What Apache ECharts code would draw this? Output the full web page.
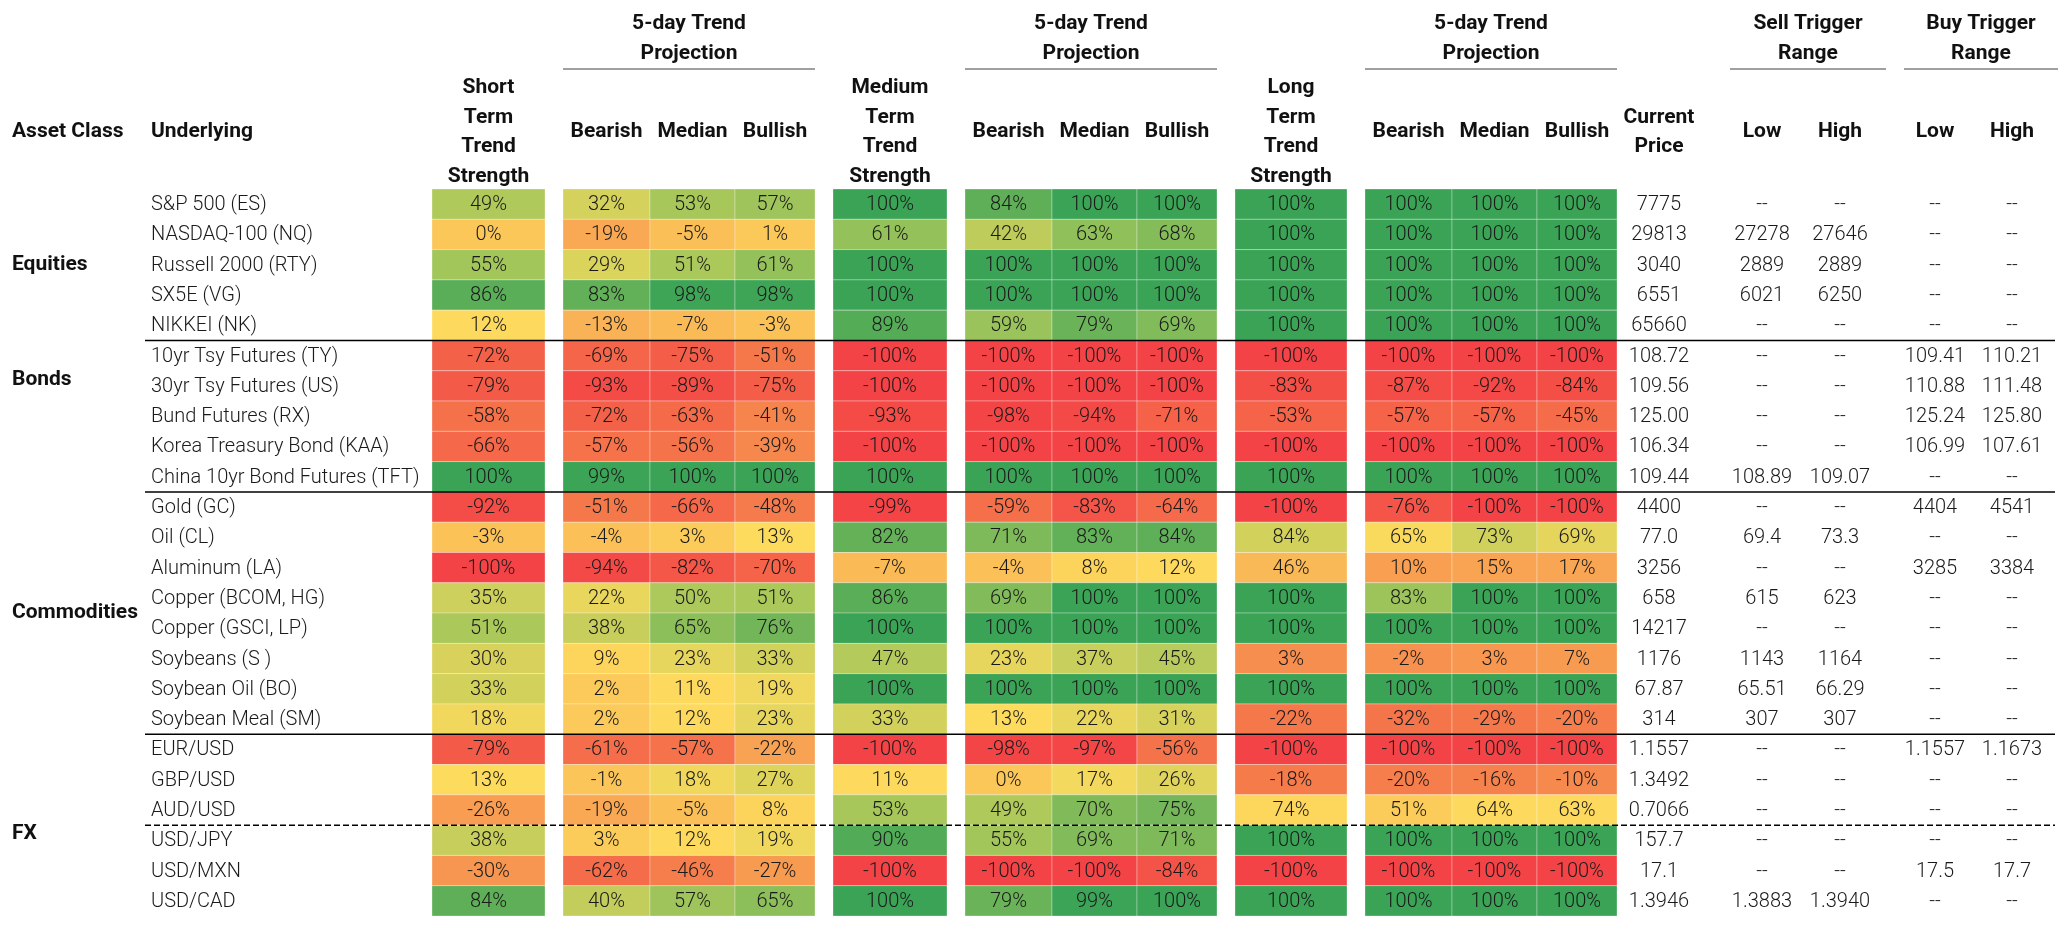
<!DOCTYPE html>
<html><head><meta charset="utf-8">
<script src="https://cdn.jsdelivr.net/npm/echarts@6/dist/echarts.min.js"></script>
<style>html,body{margin:0;padding:0;background:#fff}#c{width:2060px;height:926px}</style>
</head><body><div id="c"></div>
<script>
// ---------------- DATA ----------------
const assetClasses = ['Equities', 'Bonds', 'Commodities', 'FX'];
const underlying = [
  'S&P 500 (ES)', 'NASDAQ-100 (NQ)', 'Russell 2000 (RTY)', 'SX5E (VG)', 'NIKKEI (NK)',
  '10yr Tsy Futures (TY)', '30yr Tsy Futures (US)', 'Bund Futures (RX)', 'Korea Treasury Bond (KAA)', 'China 10yr Bond Futures (TFT)',
  'Gold (GC)', 'Oil (CL)', 'Aluminum (LA)', 'Copper (BCOM, HG)', 'Copper (GSCI, LP)', 'Soybeans (S )', 'Soybean Oil (BO)', 'Soybean Meal (SM)',
  'EUR/USD', 'GBP/USD', 'AUD/USD', 'USD/JPY', 'USD/MXN', 'USD/CAD'
];
const shortTerm = [49, 0, 55, 86, 12, -72, -79, -58, -66, 100, -92, -3, -100, 35, 51, 30, 33, 18, -79, 13, -26, 38, -30, 84];
const stBear = [32, -19, 29, 83, -13, -69, -93, -72, -57, 99, -51, -4, -94, 22, 38, 9, 2, 2, -61, -1, -19, 3, -62, 40];
const stMed  = [53, -5, 51, 98, -7, -75, -89, -63, -56, 100, -66, 3, -82, 50, 65, 23, 11, 12, -57, 18, -5, 12, -46, 57];
const stBull = [57, 1, 61, 98, -3, -51, -75, -41, -39, 100, -48, 13, -70, 51, 76, 33, 19, 23, -22, 27, 8, 19, -27, 65];
const mediumTerm = [100, 61, 100, 100, 89, -100, -100, -93, -100, 100, -99, 82, -7, 86, 100, 47, 100, 33, -100, 11, 53, 90, -100, 100];
const mtBear = [84, 42, 100, 100, 59, -100, -100, -98, -100, 100, -59, 71, -4, 69, 100, 23, 100, 13, -98, 0, 49, 55, -100, 79];
const mtMed  = [100, 63, 100, 100, 79, -100, -100, -94, -100, 100, -83, 83, 8, 100, 100, 37, 100, 22, -97, 17, 70, 69, -100, 99];
const mtBull = [100, 68, 100, 100, 69, -100, -100, -71, -100, 100, -64, 84, 12, 100, 100, 45, 100, 31, -56, 26, 75, 71, -84, 100];
const longTerm = [100, 100, 100, 100, 100, -100, -83, -53, -100, 100, -100, 84, 46, 100, 100, 3, 100, -22, -100, -18, 74, 100, -100, 100];
const ltBear = [100, 100, 100, 100, 100, -100, -87, -57, -100, 100, -76, 65, 10, 83, 100, -2, 100, -32, -100, -20, 51, 100, -100, 100];
const ltMed  = [100, 100, 100, 100, 100, -100, -92, -57, -100, 100, -100, 73, 15, 100, 100, 3, 100, -29, -100, -16, 64, 100, -100, 100];
const ltBull = [100, 100, 100, 100, 100, -100, -84, -45, -100, 100, -100, 69, 17, 100, 100, 7, 100, -20, -100, -10, 63, 100, -100, 100];
const currentPrice = ['7775', '29813', '3040', '6551', '65660', '108.72', '109.56', '125.00', '106.34', '109.44',
  '4400', '77.0', '3256', '658', '14217', '1176', '67.87', '314', '1.1557', '1.3492', '0.7066', '157.7', '17.1', '1.3946'];
const sellLow  = [null, '27278', '2889', '6021', null, null, null, null, null, '108.89', null, '69.4', null, '615', null, '1143', '65.51', '307', null, null, null, null, null, '1.3883'];
const sellHigh = [null, '27646', '2889', '6250', null, null, null, null, null, '109.07', null, '73.3', null, '623', null, '1164', '66.29', '307', null, null, null, null, null, '1.3940'];
const buyLow   = [null, null, null, null, null, '109.41', '110.88', '125.24', '106.99', null, '4404', null, '3285', null, null, null, null, null, '1.1557', null, null, null, '17.5', null];
const buyHigh  = [null, null, null, null, null, '110.21', '111.48', '125.80', '107.61', null, '4541', null, '3384', null, null, null, null, null, '1.1673', null, null, null, '17.7', null];
const groupSizes = [5, 5, 8, 6];
const dashedAfter = [20];   // dashed split inside FX (after AUD/USD)

// header texts
const headerAsset = 'Asset Class';
const headerUnderlying = 'Underlying';
const headerStrength = ['Short\nTerm\nTrend\nStrength', 'Medium\nTerm\nTrend\nStrength', 'Long\nTerm\nTrend\nStrength'];
const projTitle = '5-day Trend\nProjection';
const projLabels = ['Bearish', 'Median', 'Bullish'];
const headerPrice = 'Current\nPrice';
const triggerTitles = ['Sell Trigger\nRange', 'Buy Trigger\nRange'];
const rangeLabels = ['Low', 'High'];

// ---------------- LAYOUT / STYLE ----------------
const FONT = 'Roboto, "Liberation Sans", sans-serif';
const BODY_FONT = '300 20px ' + FONT;
const HEAD_FONT = 'bold 21px ' + FONT;
const HEAT_COLS = [
  {x0: 432, x1: 545},
  {x0: 563, x1: 650}, {x0: 650, x1: 735}, {x0: 735, x1: 815},
  {x0: 833, x1: 947},
  {x0: 965, x1: 1052}, {x0: 1052, x1: 1137}, {x0: 1137, x1: 1217},
  {x0: 1235, x1: 1347},
  {x0: 1365, x1: 1452}, {x0: 1452, x1: 1537}, {x0: 1537, x1: 1617}
];
const heatValues = [shortTerm, stBear, stMed, stBull, mediumTerm, mtBear, mtMed, mtBull, longTerm, ltBear, ltMed, ltBull];
const TEXT_COLS = [
  {cx: 1659, src: currentPrice},
  {cx: 1762, src: sellLow}, {cx: 1840, src: sellHigh},
  {cx: 1935, src: buyLow}, {cx: 2012, src: buyHigh}
];
const TRIGGER_SPANS = [[1730, 1886], [1904, 2058]];
const ASSET_X = 12, UNDER_X = 151, SEP_X0 = 145, SEP_X1 = 2055;
const ASSET_LABEL_POS = [2, 5.8, 13.5, 20.8];

// colour scale: min red -> median yellow -> max green
const SCALE_MIN = -100, SCALE_MAX = 100;
const RED = [244, 67, 70], ORANGE = [245, 128, 76], YELLOW = [253, 219, 93], LIME = [160, 197, 91], GREEN = [58, 163, 86];
function median(a) { const s = [...a].sort((x, y) => x - y); const n = s.length; return n % 2 ? s[(n - 1) / 2] : (s[n / 2 - 1] + s[n / 2]) / 2; }
const mids = [median(shortTerm), median(longTerm), median(ltBear.concat(ltMed, ltBull))];
const scaleOfCol = [0, 0, 0, 0, 0, 0, 0, 0, 1, 2, 2, 2];
function mix(a, b, t) { return a.map((x, i) => Math.round(x + (b[i] - x) * t)); }
function colorFor(v, mid) {
  let c;
  if (v <= mid) {
    const f = Math.max(0, (v - SCALE_MIN) / (mid - SCALE_MIN));
    c = f < 0.5 ? mix(RED, ORANGE, f * 2) : mix(ORANGE, YELLOW, f * 2 - 1);
  } else {
    const g = Math.min(1, (v - mid) / (SCALE_MAX - mid));
    c = g < 0.5 ? mix(YELLOW, LIME, g * 2) : mix(LIME, GREEN, g * 2 - 1);
  }
  return 'rgb(' + c.join(',') + ')';
}

// ---------------- SERIES DATA ----------------
const cellData = [];
heatValues.forEach((arr, c) => arr.forEach((v, r) => cellData.push([c, r, v])));
const textData = [];
TEXT_COLS.forEach((col, c) => underlying.forEach((u, r) => textData.push([c, r])));
const sepData = [];
let acc = 0;
groupSizes.forEach((n, i) => { acc += n; if (i < groupSizes.length - 1) sepData.push([acc - 1, 0]); });
dashedAfter.forEach(r => sepData.push([r, 1]));

function txt(x, y, text, font, align, extra) {
  return Object.assign({type: 'text', x: x, y: y, style: {text: text, font: font, fill: '#111', textAlign: align || 'center', align: align || 'center', textVerticalAlign: 'middle', verticalAlign: 'middle'}}, extra || {});
}

const chart = echarts.init(document.getElementById('c'));

// header graphics
const graphics = [];
const HY = 132, TY = 38.5, ULY = 69;
graphics.push(txt(ASSET_X, HY, headerAsset, HEAD_FONT, 'left'));
graphics.push(txt(UNDER_X, HY, headerUnderlying, HEAD_FONT, 'left'));
[0, 4, 8].forEach((ci, k) => {
  const col = HEAT_COLS[ci];
  const t = txt((col.x0 + col.x1) / 2, HY, headerStrength[k], HEAD_FONT, 'center');
  t.style.lineHeight = 29.5;
  graphics.push(t);
  const g0 = HEAT_COLS[ci + 1], g2 = HEAT_COLS[ci + 3];
  const tt = txt((g0.x0 + g2.x1) / 2, TY, projTitle, HEAD_FONT, 'center');
  tt.style.lineHeight = 29.5;
  graphics.push(tt);
  graphics.push({type: 'line', shape: {x1: g0.x0, y1: ULY, x2: g2.x1, y2: ULY}, style: {stroke: '#808080', lineWidth: 1.5}});
  for (let j = 0; j < 3; j++) {
    const cc = HEAT_COLS[ci + 1 + j];
    graphics.push(txt((cc.x0 + cc.x1) / 2, HY, projLabels[j], HEAD_FONT, 'center'));
  }
});
const pt = txt(TEXT_COLS[0].cx, HY, headerPrice, HEAD_FONT, 'center');
pt.style.lineHeight = 29.5;
graphics.push(pt);
TRIGGER_SPANS.forEach((sp, k) => {
  const t = txt((sp[0] + sp[1]) / 2, TY, triggerTitles[k], HEAD_FONT, 'center');
  t.style.lineHeight = 29.5;
  graphics.push(t);
  graphics.push({type: 'line', shape: {x1: sp[0], y1: ULY, x2: sp[1], y2: ULY}, style: {stroke: '#808080', lineWidth: 1.5}});
  graphics.push(txt(TEXT_COLS[1 + k * 2].cx, HY, rangeLabels[0], HEAD_FONT, 'center'));
  graphics.push(txt(TEXT_COLS[2 + k * 2].cx, HY, rangeLabels[1], HEAD_FONT, 'center'));
});

const option = {
  animation: false,
  backgroundColor: '#fff',
  grid: {left: 0, right: 0, top: 189, bottom: 10},
  xAxis: {type: 'value', min: 0, max: 2060, show: false},
  yAxis: {type: 'category', data: underlying, inverse: true, show: false},
  graphic: graphics,
  series: [
    {
      type: 'custom', name: 'cells', data: cellData, encode: {x: 0, y: 1},
      renderItem: function (params, api) {
        const c = api.value(0), r = api.value(1), v = api.value(2);
        const col = HEAT_COLS[c];
        const pL = api.coord([col.x0, r]), pR = api.coord([col.x1, r]);
        const h = api.size([0, 1])[1];
        return {type: 'group', children: [
          {type: 'rect', shape: {x: pL[0], y: pL[1] - h / 2, width: pR[0] - pL[0], height: h},
            style: {fill: colorFor(v, mids[scaleOfCol[c]]), stroke: 'rgba(255,255,255,0.3)', lineWidth: 1}},
          {type: 'text', x: (pL[0] + pR[0]) / 2, y: pL[1] + 1,
            style: {text: v + '%', font: BODY_FONT, fill: '#1a1a1a', textAlign: 'center', align: 'center', textVerticalAlign: 'middle', verticalAlign: 'middle'}}
        ]};
      }
    },
    {
      type: 'custom', name: 'names', data: underlying.map((u, r) => [0, r]), encode: {x: 0, y: 1},
      renderItem: function (params, api) {
        const r = api.value(1);
        const p = api.coord([UNDER_X, r]);
        return {type: 'text', x: p[0], y: p[1] + 1,
          style: {text: underlying[r], font: BODY_FONT, fill: '#1a1a1a', textAlign: 'left', align: 'left', textVerticalAlign: 'middle', verticalAlign: 'middle'}};
      }
    },
    {
      type: 'custom', name: 'values', data: textData, encode: {x: 0, y: 1},
      renderItem: function (params, api) {
        const c = api.value(0), r = api.value(1);
        const col = TEXT_COLS[c];
        const p = api.coord([col.cx, r]);
        const s = col.src[r];
        return {type: 'text', x: p[0], y: p[1] + 1,
          style: {text: s == null ? '--' : s, font: BODY_FONT, fill: '#1a1a1a', textAlign: 'center', align: 'center', textVerticalAlign: 'middle', verticalAlign: 'middle'}};
      }
    },
    {
      type: 'custom', name: 'asset', data: assetClasses.map((a, i) => [i, 0]), encode: {x: 0, y: 1},
      renderItem: function (params, api) {
        const i = params.dataIndex;
        const y0 = api.coord([ASSET_X, 0]);
        const pitch = api.size([0, 1])[1];
        return {type: 'text', x: y0[0], y: y0[1] + ASSET_LABEL_POS[i] * pitch,
          style: {text: assetClasses[i], font: HEAD_FONT, fill: '#111', textAlign: 'left', align: 'left', textVerticalAlign: 'middle', verticalAlign: 'middle'}};
      }
    },
    {
      type: 'custom', name: 'separators', data: sepData, encode: {x: 0, y: 0}, z: 5,
      renderItem: function (params, api) {
        const r = sepData[params.dataIndex][0], dashed = sepData[params.dataIndex][1];
        const pA = api.coord([SEP_X0, r]), pB = api.coord([SEP_X1, r]);
        const pitch = api.size([0, 1])[1];
        const y = pA[1] + pitch / 2;
        return {type: 'line', shape: {x1: pA[0], y1: y, x2: pB[0], y2: y},
          style: {stroke: '#000', lineWidth: 1.5, lineDash: dashed ? [6, 3] : null}};
      }
    }
  ]
};
chart.setOption(option);
</script></body></html>
